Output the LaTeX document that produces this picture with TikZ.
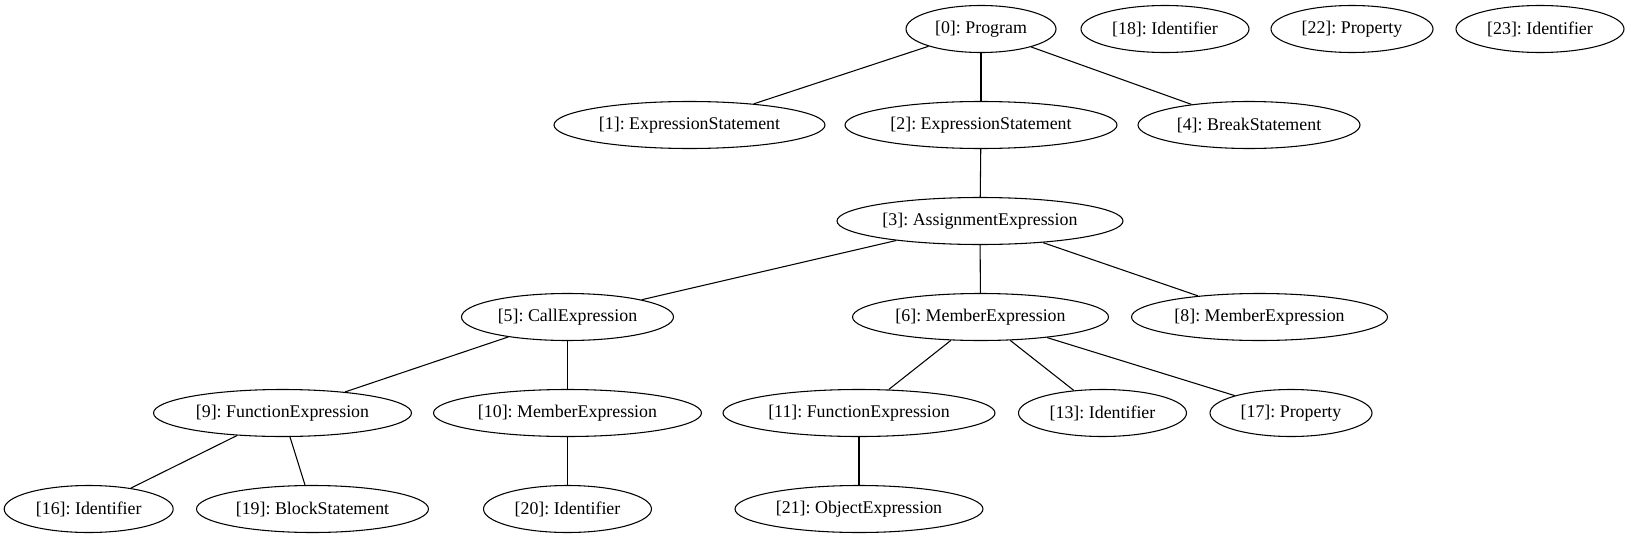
\documentclass[tikz,border=0pt]{standalone}
\usepackage{fontspec}
\setmainfont{Liberation Serif}
\usetikzlibrary{shapes.geometric}
\frenchspacing
\begin{document}
\begin{tikzpicture}[x=0.75pt,y=-0.75pt,
  gv/.style={draw, ellipse, line width=0.8pt, inner sep=0pt, minimum height=35.25pt,
    font=\fontsize{13.4pt}{16pt}\selectfont\frenchspacing},
  ew/.style={minimum width=#1*0.75pt},
  edge/.style={draw, line width=0.8pt}]
\useasboundingbox (0,0) rectangle (1631,539);
% rank 0
\node[gv, ew=150] (n0)  at (981,29)  {[0]: Program};
\node[gv, ew=168] (n18) at (1165,29) {[18]: Identifier};
\node[gv, ew=162] (n22) at (1352,29) {[22]: Property};
\node[gv, ew=168] (n23) at (1540,29) {[23]: Identifier};
% rank 1
\node[gv, ew=271] (n1) at (689.5,125) {[1]: ExpressionStatement};
\node[gv, ew=272] (n2) at (981,125)   {[2]: ExpressionStatement};
\node[gv, ew=222] (n4) at (1249,125)  {[4]: BreakStatement};
% rank 2
\node[gv, ew=286] (n3) at (980,221) {[3]: AssignmentExpression};
% rank 3
\node[gv, ew=212] (n5) at (567.5,317)  {[5]: CallExpression};
\node[gv, ew=256] (n6) at (980.5,317)  {[6]: MemberExpression};
\node[gv, ew=256] (n8) at (1259.5,317) {[8]: MemberExpression};
% rank 4
\node[gv, ew=258] (n9)  at (282.5,413)  {[9]: FunctionExpression};
\node[gv, ew=268] (n10) at (567.5,413)  {[10]: MemberExpression};
\node[gv, ew=272] (n11) at (859,413)    {[11]: FunctionExpression};
\node[gv, ew=168] (n13) at (1102.5,413) {[13]: Identifier};
\node[gv, ew=162] (n17) at (1291,413)   {[17]: Property};
% rank 5
\node[gv, ew=169] (n16) at (88.7,509)  {[16]: Identifier};
\node[gv, ew=232] (n19) at (312.5,509) {[19]: BlockStatement};
\node[gv, ew=168] (n20) at (567.5,509) {[20]: Identifier};
\node[gv, ew=248] (n21) at (859,509)   {[21]: ObjectExpression};
% edges
\path[edge] (n0) -- (n1);
\path[edge] (n0) -- (n2);
\path[edge] (n0) -- (n4);
\path[edge] (n2) -- (n3);
\path[edge] (n3) -- (n5);
\path[edge] (n3) -- (n6);
\path[edge] (n3) -- (n8);
\path[edge] (n5) -- (n9);
\path[edge] (n5) -- (n10);
\path[edge] (n6) -- (n11);
\path[edge] (n6) -- (n13);
\path[edge] (n6) -- (n17);
\path[edge] (n9) -- (n16);
\path[edge] (n9) -- (n19);
\path[edge] (n10) -- (n20);
\path[edge] (n11) -- (n21);
\end{tikzpicture}
\end{document}
